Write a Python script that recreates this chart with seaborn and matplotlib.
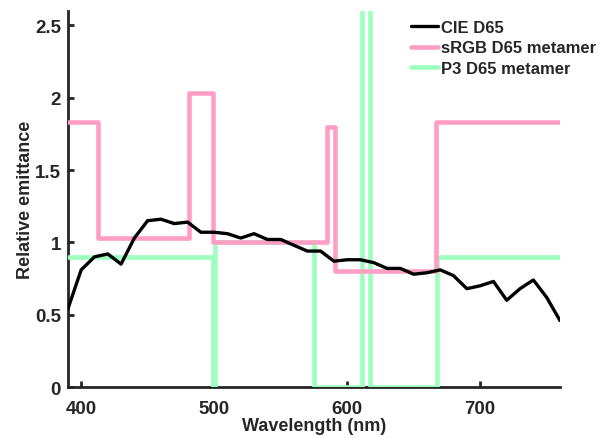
import numpy as np
import pandas as pd
import matplotlib
matplotlib.use("Agg")
import matplotlib.pyplot as plt
import seaborn as sns

sns.set_style("ticks")
plt.rcParams['font.family'] = ['Liberation Sans', 'DejaVu Sans']
plt.rcParams['font.weight'] = 'bold'

# CIE D65 relative spectrum, 10 nm steps
wl_d65 = [390, 400, 410, 420, 430, 440, 450, 460, 470, 480, 490, 500, 510,
          520, 530, 540, 550, 560, 570, 580, 590, 600, 610, 620, 630, 640,
          650, 660, 670, 680, 690, 700, 710, 720, 730, 740, 750, 760]
d65 = [0.54, 0.81, 0.90, 0.92, 0.85, 1.03, 1.15, 1.16, 1.13, 1.14, 1.07, 1.07,
       1.06, 1.03, 1.06, 1.02, 1.02, 0.98, 0.94, 0.94, 0.87, 0.88, 0.88, 0.86,
       0.82, 0.82, 0.78, 0.79, 0.81, 0.77, 0.68, 0.70, 0.73, 0.60, 0.68, 0.74,
       0.62, 0.46]

# band edges (nm) and levels of the step metamers
srgb_edges = [390, 413, 481, 499, 585, 591, 667, 760]
srgb_levels = [1.83, 1.03, 2.03, 1.00, 1.80, 0.80, 1.83, 1.83]

p3_edges = [390, 499.5, 501, 575, 611, 617, 667.5, 760]
p3_levels = [0.90, 0.00, 1.00, 0.00, 8.00, 0.00, 0.90, 0.90]

pink = '#ff9ec4'
green = '#9cffbe'

fig = plt.figure(figsize=(6.06, 4.39), dpi=100)
ax = fig.add_axes([0.112, 0.116, 0.812, 0.857])

df_d65 = pd.DataFrame({'wl': wl_d65, 'val': d65})
df_srgb = pd.DataFrame({'wl': srgb_edges, 'val': srgb_levels})
df_p3 = pd.DataFrame({'wl': p3_edges, 'val': p3_levels})

sns.lineplot(data=df_p3, x='wl', y='val', ax=ax, color=green, lw=3.3,
             drawstyle='steps-post', zorder=3, label='P3 D65 metamer')
sns.lineplot(data=df_srgb, x='wl', y='val', ax=ax, color=pink, lw=3.3,
             drawstyle='steps-post', zorder=3.5, label='sRGB D65 metamer')
sns.lineplot(data=df_d65, x='wl', y='val', ax=ax, color='black', lw=2.4,
             zorder=4, label='CIE D65')

ax.set_xlim(390, 760)
ax.set_ylim(0, 2.6)
ax.set_xticks([400, 500, 600, 700])
ax.set_yticks([0, 0.5, 1, 1.5, 2, 2.5])
ax.set_yticklabels(['0', '0.5', '1', '1.5', '2', '2.5'])
ax.set_xlabel('Wavelength (nm)', fontsize=13, fontweight='bold', labelpad=0.5)
ax.set_ylabel('Relative emittance', fontsize=13, fontweight='bold', labelpad=1)

for s in ['top', 'right']:
    ax.spines[s].set_visible(False)
for s in ['left', 'bottom']:
    ax.spines[s].set_linewidth(2.0)
    ax.spines[s].set_color('#262626')
ax.tick_params(direction='in', length=4, width=2.0, color='#262626',
               labelsize=13.5, pad=5)
ax.tick_params(axis='x', pad=9)

handles, labels = ax.get_legend_handles_labels()
order = [2, 1, 0]
leg = ax.legend([handles[i] for i in order], [labels[i] for i in order],
                loc='upper left', bbox_to_anchor=(0.667, 0.967),
                bbox_transform=fig.transFigure, frameon=False,
                fontsize=12, handlelength=1.6, handletextpad=0.2,
                labelspacing=0.32, borderaxespad=0)
for t in leg.get_texts():
    t.set_fontweight('bold')

fig.savefig('out.png', dpi=100)
